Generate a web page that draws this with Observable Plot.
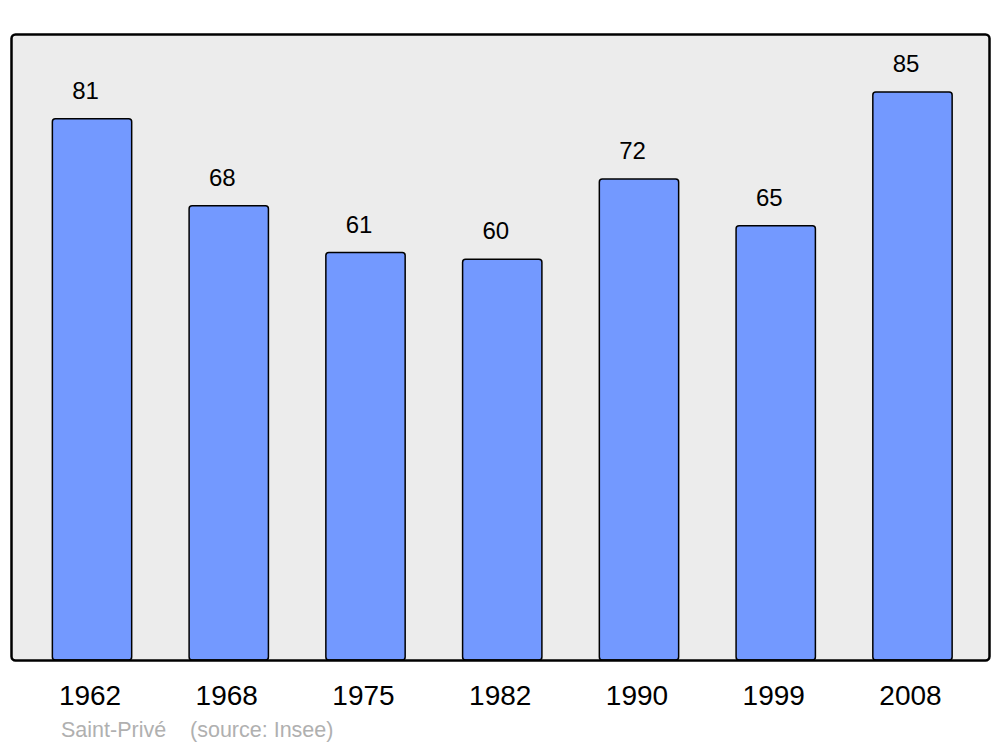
<!DOCTYPE html>
<html>
<head>
<meta charset="utf-8">
<script src="https://cdn.jsdelivr.net/npm/d3@7"></script>
<script src="https://cdn.jsdelivr.net/npm/@observablehq/plot@0.6"></script>
<style>
  html, body { margin: 0; padding: 0; background: #fff; }
  #caption { font-family: "Liberation Sans", Arial, sans-serif; font-size: 21.5px; color: #b0b0b0; line-height: 24px; height: 29px; padding-left: 61px; white-space: pre; }
</style>
</head>
<body>
<div id="chart"></div>
<div id="caption"></div>
<script>
const years = ["1962", "1968", "1975", "1982", "1990", "1999", "2008"];
const populations = [81, 68, 61, 60, 72, 65, 85];
const captionText = "Saint-Privé    (source: Insee)";

const data = years.map((y, i) => ({year: y, value: populations[i]}));

const chart = Plot.plot({
  width: 1000,
  height: 718,
  marginTop: 34,
  marginBottom: 58,
  marginLeft: 11,
  marginRight: 11,
  style: {fontFamily: "Liberation Sans, Arial, sans-serif", background: "#fff", color: "#000"},
  x: {domain: years, range: [23.65, 980.85], paddingInner: 0.42, paddingOuter: 0.21, align: 0.5, round: false, label: null},
  y: {domain: [0, 93.7], axis: null},
  marks: [
    Plot.frame({fill: "#ececec", stroke: null, rx: 4}),
    Plot.barY(data, {x: "year", y: "value", fill: "#7399ff", stroke: "#000", strokeWidth: 1.5, rx: 3}),
    Plot.text(data, {x: "year", y: "value", text: d => String(d.value), dx: -7, dy: -28, fontSize: 24, fill: "#000"}),
    Plot.frame({stroke: "#000", strokeWidth: 2.5, rx: 4}),
    Plot.axisX({tickSize: 0, tickPadding: 25, fontSize: 28, dx: -2.5, label: null})
  ]
});
document.getElementById("chart").appendChild(chart);
document.getElementById("caption").textContent = captionText;
</script>
</body>
</html>
